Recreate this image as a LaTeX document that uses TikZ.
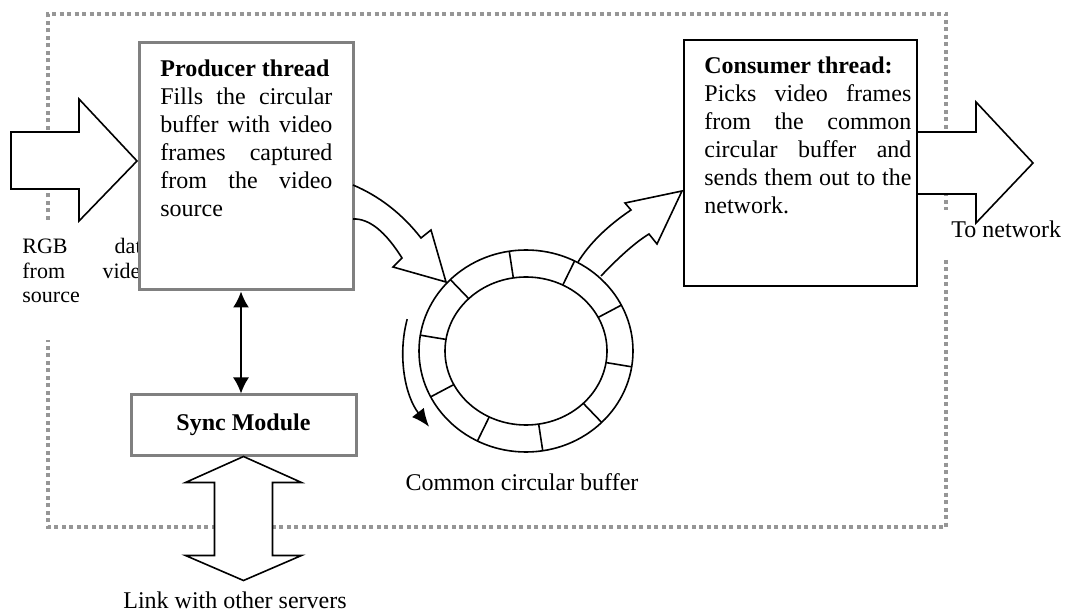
\documentclass[tikz,border=0pt]{standalone}
\usepackage{fontspec}
\setmainfont{Liberation Serif}
\usetikzlibrary{arrows.meta}
\definecolor{boxgray}{RGB}{128, 128, 128}
\definecolor{dotgray}{RGB}{150, 150, 150}
\tolerance=10000
\hbadness=10000

\begin{document}
\begin{tikzpicture}[x=0.5pt, y=-0.5pt,
    threadbox/.style={rectangle, draw, fill=white, inner sep=0pt},
    bodytext/.style={anchor=north west, inner sep=0pt, align=justify, font=\fontsize{12}{14}\selectfont},
    plaintext/.style={inner sep=0pt, font=\fontsize{12}{14}\selectfont},
    blockarrow/.style={draw, fill=white, line width=0.8pt, line join=miter},
    dottedframe/.style={draw=dotgray, line width=1.75pt, dash pattern=on 2pt off 1.75pt}]
            \useasboundingbox (0,0) rectangle (1065,614);
            % Server frame
            \draw[dottedframe] (48,220) -- (48,14) -- (946,14) -- (946,210);
            \draw[dottedframe] (946,260) -- (946,527) -- (48,527) -- (48,340);
            % Input from video source
            \draw[blockarrow] (11,132) -- (79,132) -- (79,99) -- (137,161) -- (79,221) -- (79,189) -- (11,189) -- cycle;
            \node[plaintext, anchor=north west, text width=64.5pt, align=justify, font=\fontsize{11}{12.25}\selectfont] (rgb) at (22,238) {RGB\hfill data\\ from\hfill video\\ source};
            % Producer thread
            \node[threadbox, draw=boxgray, line width=1.5pt, minimum width=107pt, minimum height=123.5pt] (producer) at (246,166.5) {};
            \node[bodytext, text width=86pt] (producertext) at (160,59) {\textbf{Producer thread}\\ Fills the circular\linebreak buffer with video\linebreak frames captured\linebreak from the video\linebreak source};
            % Output to network
            \draw[blockarrow] (917,132) -- (976,132) -- (976,102) -- (1033,163) -- (976,223) -- (976,194) -- (917,194);
            \node[plaintext, anchor=base west] (netlabel) at (951,238) {To network};
            % Consumer thread
            \node[threadbox, line width=0.8pt, minimum width=116.5pt, minimum height=123pt] (consumer) at (800.5,163) {};
            \node[bodytext, text width=103.5pt] (consumertext) at (704,56) {\textbf{Consumer thread:}\\ Picks video frames\linebreak from the common\linebreak circular buffer and\linebreak sends them out to the\linebreak network.};
            % Sync module
            \node[threadbox, draw=boxgray, line width=1.5pt, minimum width=112.5pt, minimum height=30pt, font=\bfseries\fontsize{12}{14}\selectfont] (sync) at (243.5,425) {Sync Module};
            \draw[line width=0.8pt, {Latex[length=8pt,width=8pt]}-{Latex[length=8pt,width=8pt]}] ([xshift=-2.5pt]producer.south) -- ([xshift=-1.25pt]sync.north);
            \draw[blockarrow] (sync.south) -- ++(58,26) -- ++(-29,0) -- ++(0,73) -- ++(29,0) -- ++(-58,25) -- ++(-58,-25) -- ++(29,0) -- ++(0,-73) -- ++(-29,0) -- cycle;
            \node[plaintext, anchor=base] (linklabel) at (235,608) {Link with other servers};
            % Common circular buffer
            \coordinate (buf) at (526,351);
            \draw[line width=0.8pt] (buf) ellipse [x radius=107, y radius=101];
            \draw[line width=0.8pt] (buf) ellipse [x radius=81, y radius=74];
            \foreach \a in {-135,-99,...,189}
                \draw[line width=0.8pt] ([shift={(\a:81 and 74)}]buf) -- ([shift={(\a:107 and 101)}]buf);
            \draw[line width=0.8pt, -{Latex[length=9pt,width=7.5pt]}] ([shift={(195:123)}]buf) arc[start angle=195, end angle=142, radius=123];
            \node[plaintext, anchor=base] (buflabel) at (522,490) {Common circular buffer};
            % Frames in and out of the buffer
            \draw[line width=0.8pt, line join=miter] (353,185) .. controls (379.7,196.3) and (402.3,214) .. (421,238) -- (431,230) -- (446,282) -- (393,267) -- (402,258) .. controls (385.3,231.3) and (369,218.3) .. (353,219);
            \draw[line width=0.8pt, line join=miter] (578,262) .. controls (589.7,243.3) and (607.3,226) .. (631,210) -- (625,203) -- (682,191) -- (657,244) -- (649,234) .. controls (636.3,241.7) and (620.3,255.7) .. (601,276);
        \end{tikzpicture}
\end{document}
